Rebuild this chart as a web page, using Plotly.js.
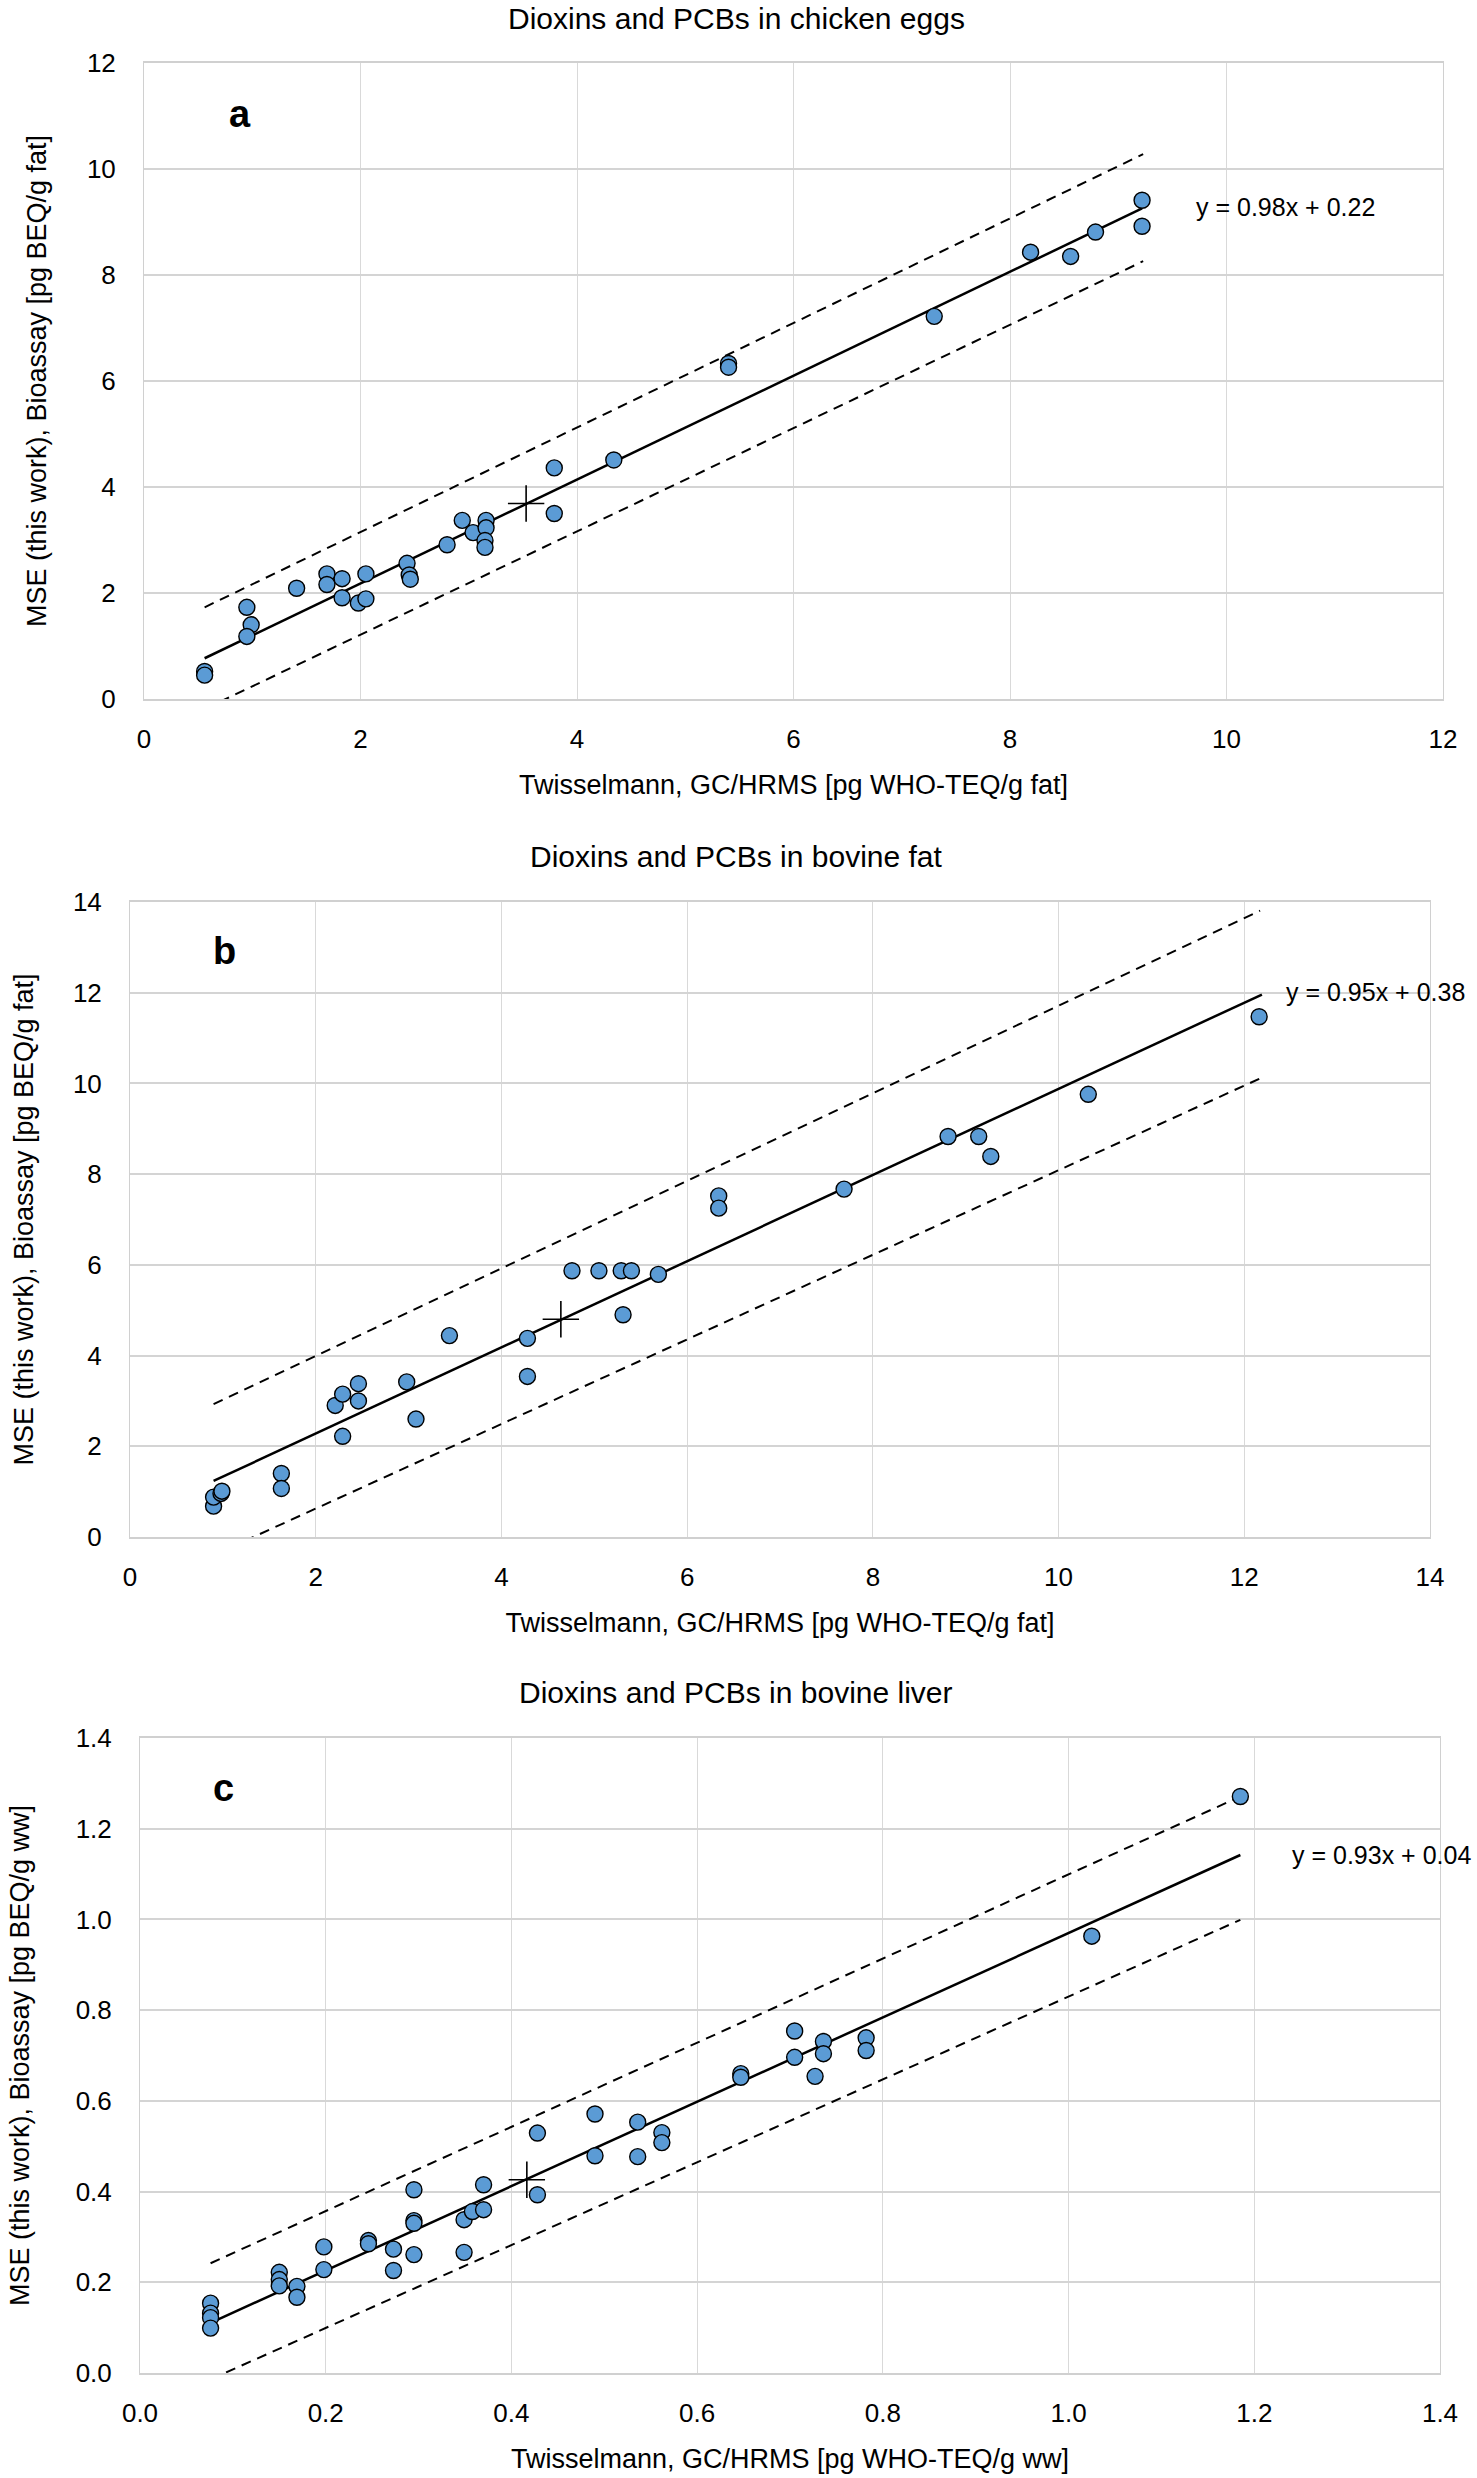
<!DOCTYPE html>
<html>
<head>
<meta charset="utf-8">
<script src="https://cdn.plot.ly/plotly-3.0.1.min.js"></script>
<style>
  html, body { margin: 0; padding: 0; background: #fff; }
  #chart { width: 1477px; height: 2478px; }
</style>
</head>
<body>
<div id="chart"></div>
<script>
// ---- data ----
// (a) chicken eggs, pg WHO-TEQ/g fat vs pg BEQ/g fat
var eggsX = [0.56, 0.56, 0.95, 0.99, 0.95, 1.41, 1.69, 1.69, 1.83, 1.83, 1.98, 2.05, 2.05,
             2.43, 2.45, 2.46, 2.80, 2.94, 3.04, 3.16, 3.16, 3.15, 3.15, 3.79, 3.79, 4.34,
             5.40, 5.40, 7.30, 8.19, 8.56, 8.79, 9.22, 9.22];
var eggsY = [0.52, 0.45, 1.73, 1.40, 1.18, 2.09, 2.36, 2.16, 2.27, 1.91, 1.81, 1.89, 2.36,
             2.56, 2.34, 2.26, 2.91, 3.37, 3.14, 3.37, 3.23, 2.99, 2.86, 4.36, 3.50, 4.51,
             6.33, 6.26, 7.22, 8.43, 8.35, 8.81, 9.41, 8.92];
var eggsMean = [3.53, 3.69];
var eggsFit = {slope: 0.98, intercept: 0.22, x: [0.56, 9.22]};
var eggsBandX = [0.56, 9.23];
var eggsUpper = [1.73, 10.28];
var eggsLower = [-0.19, 8.26];

// (b) bovine fat
var fatX = [0.90, 0.90, 0.98, 0.99, 1.63, 1.63, 2.21, 2.29, 2.29, 2.46, 2.46, 2.98, 3.08,
            3.44, 4.28, 4.28, 4.76, 5.05, 5.29, 5.40, 5.31, 5.69, 6.34, 6.34, 7.69, 8.81,
            9.14, 9.27, 10.32, 12.16];
var fatY = [0.68, 0.88, 0.96, 1.01, 1.40, 1.07, 2.90, 3.15, 2.22, 3.38, 3.00, 3.42, 2.60,
            4.44, 4.38, 3.54, 5.87, 5.87, 5.87, 5.87, 4.90, 5.79, 7.52, 7.25, 7.67, 8.83,
            8.83, 8.39, 9.76, 11.47];
var fatMean = [4.64, 4.80];
var fatFit = {slope: 0.95, intercept: 0.38, x: [0.90, 12.19]};
var fatBandX = [0.90, 12.17];
var fatUpper = [2.93, 13.81];
var fatLower = [-0.40, 10.11];

// (c) bovine liver, per g wet weight
var liverX = [0.076, 0.076, 0.076, 0.076, 0.150, 0.150, 0.150, 0.169, 0.169, 0.198, 0.198,
              0.246, 0.246, 0.273, 0.273, 0.295, 0.295, 0.295, 0.295, 0.349, 0.349, 0.358,
              0.370, 0.370, 0.428, 0.428, 0.490, 0.490, 0.536, 0.536, 0.562, 0.562, 0.647,
              0.647, 0.705, 0.705, 0.727, 0.736, 0.736, 0.782, 0.782, 1.025, 1.185];
var liverY = [0.154, 0.132, 0.122, 0.099, 0.222, 0.206, 0.192, 0.191, 0.167, 0.278, 0.228,
              0.292, 0.285, 0.273, 0.226, 0.404, 0.336, 0.330, 0.261, 0.338, 0.266, 0.356,
              0.415, 0.360, 0.529, 0.393, 0.571, 0.479, 0.553, 0.477, 0.530, 0.508, 0.660,
              0.652, 0.754, 0.696, 0.654, 0.731, 0.704, 0.739, 0.711, 0.963, 1.271];
var liverMean = [0.4166, 0.426];
var liverFit = {slope: 0.93, intercept: 0.04, x: [0.076, 1.185]};
var liverBandX = [0.076, 1.185];
var liverUpper = [0.242, 1.271];
var liverLower = [-0.014, 0.999];

var titles = ['Dioxins and PCBs in chicken eggs', 'Dioxins and PCBs in bovine fat', 'Dioxins and PCBs in bovine liver'];
var xTitles = ['Twisselmann, GC/HRMS [pg WHO-TEQ/g fat]', 'Twisselmann, GC/HRMS [pg WHO-TEQ/g fat]', 'Twisselmann, GC/HRMS [pg WHO-TEQ/g ww]'];
var yTitles = ['MSE (this work), Bioassay [pg BEQ/g fat]', 'MSE (this work), Bioassay [pg BEQ/g fat]', 'MSE (this work), Bioassay [pg BEQ/g ww]'];
var letters = ['a', 'b', 'c'];

// ---- layout helpers ----
var W = 1477, H = 2478;
var FONT = 'Liberation Sans, Arial, sans-serif';
function fx(p) { return p / W; }
function fy(p) { return 1 - p / H; }

var panels = [
    {x: eggsX, y: eggsY, mean: eggsMean, fit: eggsFit, bx: eggsBandX, up: eggsUpper, lo: eggsLower,
     box: [144, 63, 1443, 699], range: 12, dtick: 2, fmt: 'd', titleY: 19, ystand: 32,
     letterAt: [0.89, 11.04], eqAt: [9.70, 9.29]},
    {x: fatX, y: fatY, mean: fatMean, fit: fatFit, bx: fatBandX, up: fatUpper, lo: fatLower,
     box: [130, 902, 1430, 1537], range: 14, dtick: 2, fmt: 'd', titleY: 857, ystand: 31,
     letterAt: [1.02, 12.92], eqAt: [12.43, 12.02]},
    {x: liverX, y: liverY, mean: liverMean, fit: liverFit, bx: liverBandX, up: liverUpper, lo: liverLower,
     box: [140, 1738, 1440, 2373], range: 1.4, dtick: 0.2, fmt: '.1f', titleY: 1692, ystand: 38,
     letterAt: [0.09, 1.29], eqAt: [1.238, 1.142]}
];

var traces = [];
var layout = {
    width: W, height: H,
    margin: {l: 0, r: 0, t: 0, b: 0},
    paper_bgcolor: '#ffffff', plot_bgcolor: '#ffffff',
    showlegend: false,
    font: {family: FONT, size: 26, color: '#000000'},
    annotations: []
};

panels.forEach(function(p, i) {
    var n = i === 0 ? '' : String(i + 1);
    var xa = 'x' + n, ya = 'y' + n;
    var fit = p.fit;

    traces.push({x: p.bx, y: p.up, xaxis: xa, yaxis: ya, mode: 'lines', type: 'scatter',
                 line: {color: '#000', width: 2, dash: '10px,7px'}, hoverinfo: 'skip'});
    traces.push({x: p.bx, y: p.lo, xaxis: xa, yaxis: ya, mode: 'lines', type: 'scatter',
                 line: {color: '#000', width: 2, dash: '10px,7px'}, hoverinfo: 'skip'});
    traces.push({x: fit.x, y: fit.x.map(function(v) { return fit.slope * v + fit.intercept; }),
                 xaxis: xa, yaxis: ya, mode: 'lines', type: 'scatter',
                 line: {color: '#000', width: 2.5}});
    traces.push({x: p.x, y: p.y, xaxis: xa, yaxis: ya, mode: 'markers', type: 'scatter',
                 marker: {size: 16, color: '#5b9bd5', line: {color: '#000', width: 1.4}}});
    traces.push({x: [p.mean[0]], y: [p.mean[1]], xaxis: xa, yaxis: ya, mode: 'markers', type: 'scatter',
                 marker: {symbol: 'cross-thin', size: 26, color: '#000', line: {color: '#000', width: 1.6}}});

    var b = p.box;
    layout['xaxis' + n] = {
        anchor: ya, domain: [fx(b[0]), fx(b[2])], range: [0, p.range], dtick: p.dtick, tick0: 0,
        tickformat: p.fmt, showgrid: true, gridcolor: '#d9d9d9', gridwidth: 1,
        showline: true, mirror: true, linecolor: '#d0d0d0', linewidth: 2, zeroline: false,
        ticks: '', ticklabelstandoff: 16, tickfont: {size: 26},
        title: {text: xTitles[i], font: {size: 27}, standoff: 22}
    };
    layout['yaxis' + n] = {
        anchor: xa, domain: [fy(b[3]), fy(b[1])], range: [0, p.range], dtick: p.dtick, tick0: 0,
        tickformat: p.fmt, showgrid: true, gridcolor: '#d4d4d4', gridwidth: 2,
        showline: true, mirror: true, linecolor: '#d0d0d0', linewidth: 1, zeroline: false,
        ticks: '', ticklabelstandoff: 22, tickfont: {size: 26},
        title: {text: yTitles[i], font: {size: 27}, standoff: p.ystand}
    };

    layout.annotations.push({xref: 'paper', yref: 'paper', x: fx(736), y: fy(p.titleY),
        xanchor: 'center', yanchor: 'middle', showarrow: false, text: titles[i],
        font: {size: 30}});
    layout.annotations.push({xref: xa, yref: ya, x: p.letterAt[0], y: p.letterAt[1],
        xanchor: 'center', yanchor: 'middle', showarrow: false, text: '<b>' + letters[i] + '</b>',
        font: {size: 38}});
    layout.annotations.push({xref: xa, yref: ya, x: p.eqAt[0], y: p.eqAt[1],
        xanchor: 'left', yanchor: 'middle', showarrow: false,
        text: 'y = ' + fit.slope.toFixed(2) + 'x + ' + fit.intercept.toFixed(2),
        font: {size: 25}});
});

Plotly.newPlot('chart', traces, layout, {staticPlot: true});
</script>
</body>
</html>
